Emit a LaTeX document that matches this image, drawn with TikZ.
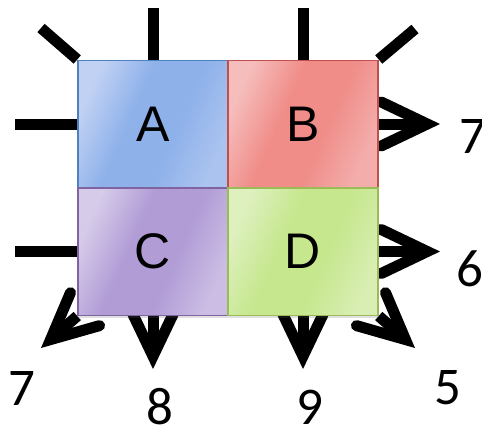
\documentclass[tikz,border=0pt]{standalone}
\usepackage{fontspec}
\setmainfont{Liberation Sans}
\newfontfamily\digitfont{Carlito}
\usetikzlibrary{arrows.meta,backgrounds,shadows}
\definecolor{Aline}{HTML}{4F81BD}\definecolor{Adark}{HTML}{8EB1EA}\definecolor{Alight}{HTML}{C0D1F3}\definecolor{Amid}{HTML}{AAC3EF}
\definecolor{Bline}{HTML}{C0504D}\definecolor{Bdark}{HTML}{F08D89}\definecolor{Blight}{HTML}{F5BDBB}\definecolor{Bmid}{HTML}{F3AEAC}
\definecolor{Cline}{HTML}{8064A2}\definecolor{Cdark}{HTML}{B19CD6}\definecolor{Clight}{HTML}{D6CBE9}\definecolor{Cmid}{HTML}{CBBDE4}
\definecolor{Dline}{HTML}{9BBB59}\definecolor{Ddark}{HTML}{C6E78E}\definecolor{Dlight}{HTML}{DDF0BE}\definecolor{Dmid}{HTML}{D8EEB2}
\pgfdeclarehorizontalshading{Ash}{100bp}{color(0bp)=(Alight); color(25bp)=(Alight); color(42bp)=(Adark); color(58bp)=(Adark); color(75bp)=(Amid); color(100bp)=(Amid)}
\pgfdeclarehorizontalshading{Bsh}{100bp}{color(0bp)=(Blight); color(25bp)=(Blight); color(42bp)=(Bdark); color(58bp)=(Bdark); color(75bp)=(Bmid); color(100bp)=(Bmid)}
\pgfdeclarehorizontalshading{Csh}{100bp}{color(0bp)=(Clight); color(25bp)=(Clight); color(42bp)=(Cdark); color(58bp)=(Cdark); color(75bp)=(Cmid); color(100bp)=(Cmid)}
\pgfdeclarehorizontalshading{Dsh}{100bp}{color(0bp)=(Dlight); color(25bp)=(Dlight); color(42bp)=(Ddark); color(58bp)=(Ddark); color(75bp)=(Dmid); color(100bp)=(Dmid)}
\begin{document}
\begin{tikzpicture}[x=1pt,y=-1pt,
  box/.style={line width=1.5pt, minimum width=150pt, minimum height=127.5pt, inner sep=0pt,
    font=\fontsize{50}{60}\selectfont,
    drop shadow={shadow xshift=0pt, shadow yshift=-3pt, opacity=0.2, fill=black!60}},
  boxA/.style={box, draw=Aline, shading=Ash, shading angle=-24},
  boxB/.style={box, draw=Bline, shading=Bsh, shading angle=-24},
  boxC/.style={box, draw=Cline, shading=Csh, shading angle=-24},
  boxD/.style={box, draw=Dline, shading=Dsh, shading angle=-24},
  spoke/.style={line width=11pt},
  arr/.style={line width=11pt, -{Straight Barb[length=46pt, width=44pt, line cap=round, line join=miter]}},
  num/.style={inner sep=0pt, font=\digitfont\fontsize{53}{60}\selectfont}]
\useasboundingbox (0,0) rectangle (482,429);
% boxes
\node[boxA] (A) at (153,124) {A};
\node[boxB] (B) at (303,124) {B};
\node[boxC] (C) at (153,251.5) {C};
\node[boxD] (D) at (303,251.5) {D};
% free ends
\coordinate (tA) at (153,8);
\coordinate (tB) at (303,8);
\coordinate (dA) at (41,28);
\coordinate (dB) at (415,29);
\coordinate (lA) at (15,124);
\coordinate (lC) at (15,251.5);
\coordinate (rB) at (440,124);
\coordinate (rD) at (440,251.5);
\coordinate (bC) at (153,369);
\coordinate (bD) at (303,369);
\coordinate (blC) at (41,348);
\coordinate (brD) at (415,348);
\begin{scope}[on background layer]
\fill[white] (0,0) rectangle (482,429);
\draw[spoke] (A.north) -- (tA);
\draw[spoke] (B.north) -- (tB);
\draw[spoke] (A.north west) -- (dA);
\draw[spoke] (B.north east) -- (dB);
\draw[spoke] (A.west) -- (lA);
\draw[spoke] (C.west) -- (lC);
\draw[arr] (B.east) -- (rB);
\draw[arr] (D.east) -- (rD);
\draw[arr] (C.south) -- (bC);
\draw[arr] (D.south) -- (bD);
\draw[arr] (C.south west) -- (blC);
\draw[arr] (D.south east) -- (brD);
\end{scope}
% labels
\node[num] (n7a) at (473,136) {7};
\node[num] (n6) at (470,269) {6};
\node[num] (n7b) at (22,388) {7};
\node[num] (n8) at (160,407) {8};
\node[num] (n9) at (310,407) {9};
\node[num] (n5) at (448,388) {5};
\end{tikzpicture}
\end{document}
